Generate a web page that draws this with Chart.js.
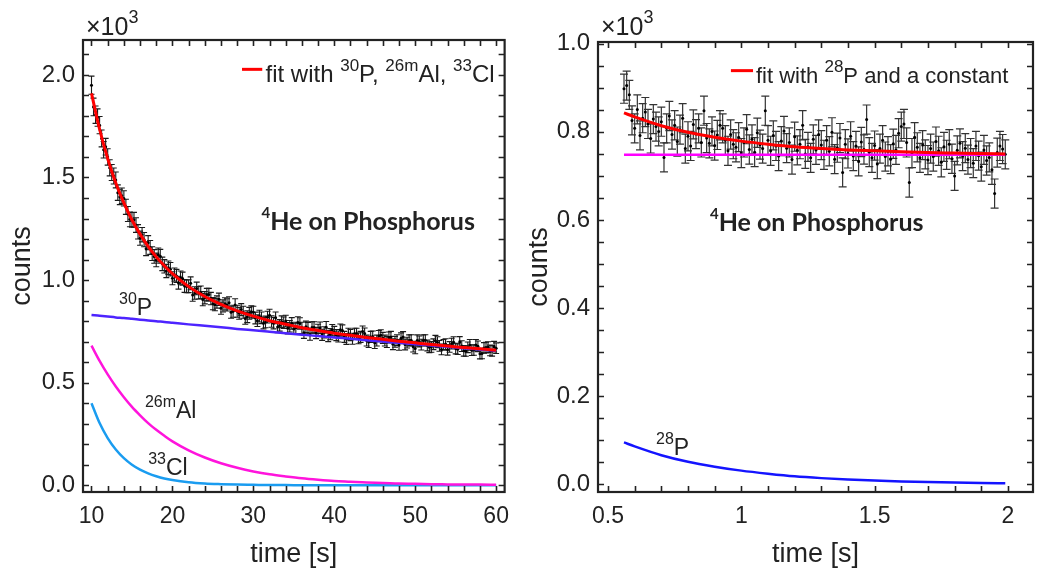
<!DOCTYPE html>
<html>
<head>
<meta charset="utf-8">
<script src="https://cdn.jsdelivr.net/npm/chart.js@4"></script>
<style>
  html, body { margin: 0; padding: 0; background: #fff; }
  #wrap { position: relative; width: 1037px; height: 571px; }
  .panel { position: absolute; top: 0; height: 571px; }
  #leftPanel { left: 0; width: 520px; }
  #rightPanel { left: 518px; width: 519px; }
</style>
</head>
<body>
<div id="wrap">
  <div class="panel" id="leftPanel"><canvas id="leftChart"></canvas></div>
  <div class="panel" id="rightPanel"><canvas id="rightChart"></canvas></div>
</div>
<script>
// ---- left panel: 10-60 s, counts in units of 10^3 ----
const leftT0 = 10, leftStep = 0.25;
const leftCounts = [
  1.950, 1.844, 1.806, 1.792, 1.755, 1.690, 1.635, 1.650, 1.600, 1.547,
  1.524, 1.507, 1.488, 1.426, 1.405, 1.411, 1.398, 1.357, 1.322, 1.296,
  1.293, 1.294, 1.268, 1.235, 1.204, 1.221, 1.197, 1.153, 1.182, 1.159,
  1.129, 1.115, 1.098, 1.123, 1.116, 1.079, 1.067, 1.044, 1.060, 1.053,
  1.009, 1.027, 1.020, 0.987, 1.012, 1.007, 0.971, 0.969, 0.970, 0.984,
  0.927, 0.937, 0.959, 0.938, 0.940, 0.905, 0.914, 0.929, 0.929, 0.910,
  0.885, 0.880, 0.893, 0.906, 0.863, 0.874, 0.884, 0.879, 0.889, 0.843,
  0.848, 0.879, 0.848, 0.838, 0.856, 0.843, 0.813, 0.821, 0.838, 0.845,
  0.843, 0.815, 0.802, 0.824, 0.816, 0.790, 0.796, 0.819, 0.829, 0.798,
  0.790, 0.816, 0.771, 0.779, 0.797, 0.792, 0.800, 0.765, 0.775, 0.789,
  0.762, 0.767, 0.793, 0.788, 0.767, 0.743, 0.772, 0.766, 0.734, 0.769,
  0.769, 0.742, 0.757, 0.768, 0.733, 0.745, 0.770, 0.727, 0.736, 0.756,
  0.747, 0.732, 0.725, 0.758, 0.754, 0.723, 0.713, 0.738, 0.732, 0.714,
  0.738, 0.738, 0.716, 0.723, 0.749, 0.739, 0.705, 0.698, 0.723, 0.725,
  0.693, 0.705, 0.727, 0.731, 0.718, 0.705, 0.698, 0.720, 0.723, 0.687,
  0.699, 0.707, 0.684, 0.716, 0.722, 0.686, 0.695, 0.706, 0.707, 0.675,
  0.667, 0.706, 0.701, 0.685, 0.706, 0.707, 0.681, 0.672, 0.674, 0.687,
  0.704, 0.697, 0.679, 0.662, 0.684, 0.688, 0.660, 0.674, 0.690, 0.697,
  0.666, 0.663, 0.698, 0.678, 0.655, 0.654, 0.672, 0.684, 0.658, 0.659,
  0.684, 0.677, 0.641, 0.642, 0.669, 0.671, 0.673, 0.657, 0.655, 0.675,
  0.668
];
const leftCurveTime = [10, 11, 12, 13, 14, 15, 16, 17, 18, 19, 20, 22, 24, 26, 28, 30,
  32, 34, 36, 38, 40, 42, 44, 46, 48, 50, 52, 54, 56, 58, 60];
const leftFit = [1.910, 1.735, 1.592, 1.473, 1.376, 1.293, 1.224, 1.164, 1.113, 1.070,
  1.031, 0.968, 0.920, 0.882, 0.850, 0.824, 0.802, 0.785, 0.768, 0.754, 0.741, 0.731,
  0.720, 0.711, 0.702, 0.694, 0.686, 0.679, 0.671, 0.665, 0.658];
const leftP30 = [0.830, 0.826, 0.822, 0.818, 0.815, 0.811, 0.807, 0.803, 0.799, 0.796,
  0.792, 0.784, 0.777, 0.770, 0.762, 0.755, 0.748, 0.741, 0.734, 0.727, 0.720, 0.714,
  0.707, 0.700, 0.694, 0.687, 0.681, 0.675, 0.668, 0.662, 0.656];
const leftAl26m = [0.680, 0.606, 0.540, 0.481, 0.429, 0.382, 0.341, 0.303, 0.270, 0.241,
  0.214, 0.170, 0.135, 0.107, 0.085, 0.067, 0.053, 0.043, 0.034, 0.027, 0.021, 0.017,
  0.013, 0.011, 0.008, 0.007, 0.005, 0.004, 0.003, 0.003, 0.002];
const leftCl33 = [0.400, 0.303, 0.230, 0.174, 0.132, 0.100, 0.076, 0.058, 0.044, 0.033,
  0.025, 0.014, 0.008, 0.005, 0.003, 0.002, 0.001, 0.001, 0.000, 0.000, 0.000, 0.000,
  0.000, 0.000, 0.000, 0.000, 0.000, 0.000, 0.000, 0.000, 0.000];
const leftXTicks = [10, 20, 30, 40, 50, 60];
const leftYTicks = [0, 0.5, 1, 1.5, 2];

// ---- right panel: 0.5-2 s ----
const rightT0 = 0.56, rightStep = 0.01;
const rightCounts = [
  0.898, 0.905, 0.884, 0.826, 0.808, 0.851, 0.792, 0.831, 0.845, 0.818,
  0.785, 0.829, 0.812, 0.801, 0.823, 0.742, 0.808, 0.836, 0.794, 0.815,
  0.778, 0.805, 0.831, 0.762, 0.790, 0.768, 0.817, 0.795, 0.808, 0.776,
  0.848, 0.786, 0.774, 0.801, 0.769, 0.793, 0.815, 0.808, 0.781, 0.757,
  0.794, 0.772, 0.765, 0.788, 0.752, 0.776, 0.806, 0.760, 0.783, 0.754,
  0.798, 0.771, 0.762, 0.848, 0.781, 0.757, 0.792, 0.768, 0.745, 0.779,
  0.802, 0.763, 0.776, 0.737, 0.789, 0.758, 0.772, 0.815, 0.750, 0.766,
  0.741, 0.783, 0.759, 0.794, 0.770, 0.748, 0.781, 0.756, 0.799, 0.738,
  0.764, 0.786, 0.708, 0.772, 0.751, 0.790, 0.745, 0.768, 0.733, 0.777,
  0.760, 0.828, 0.754, 0.741, 0.769, 0.727, 0.762, 0.781, 0.744, 0.756,
  0.738, 0.773, 0.759, 0.797, 0.812, 0.818, 0.776, 0.685, 0.752, 0.788,
  0.765, 0.741, 0.770, 0.749, 0.736, 0.762, 0.744, 0.778, 0.757, 0.731,
  0.766, 0.748, 0.772, 0.739, 0.700, 0.758, 0.774, 0.745, 0.763, 0.737,
  0.752, 0.729, 0.768, 0.746, 0.721, 0.759, 0.735, 0.742, 0.714, 0.660,
  0.753, 0.768, 0.761, 0.749
];
const rightErr = 0.033;
const rightCurveTime = [0.56, 0.6, 0.7, 0.8, 0.9, 1.0, 1.1, 1.2, 1.3, 1.4, 1.5, 1.6, 1.7, 1.8, 1.9, 1.99];
const rightFit = [0.843, 0.834, 0.814, 0.799, 0.788, 0.779, 0.772, 0.766, 0.762, 0.759,
  0.757, 0.755, 0.753, 0.752, 0.751, 0.750];
const rightP28 = [0.095, 0.086, 0.066, 0.051, 0.040, 0.031, 0.024, 0.018, 0.014, 0.011,
  0.0085, 0.0066, 0.0051, 0.0039, 0.0030, 0.0024];
const rightConstTime = [0.56, 1.99];
const rightConst = [0.748, 0.748];
const rightXTicks = [0.5, 1, 1.5, 2];
const rightYTicks = [0, 0.2, 0.4, 0.6, 0.8, 1];

const ink = '#222222';
const sans = '"Liberation Sans", Arial, sans-serif';
const boldFace = 'Lato, "Open Sans", sans-serif';

const xy = (xs, ys) => xs.map((x, i) => ({ x: x, y: ys[i] }));
// Poisson error of a bin, counts given in units of 10^3
const poisson = v => Math.sqrt(v * 1000) / 1000;

// draws "normal" and "^superscript" pieces one after another
function drawRich(ctx, x, y, parts, size, supSize, font) {
  let cx = x;
  parts.forEach(p => {
    const sup = p.startsWith('^');
    const txt = sup ? p.slice(1) : p;
    ctx.font = font.replace('SIZE', (sup ? supSize : size) + 'px');
    ctx.fillText(txt, cx, sup ? y - size * 0.47 : y);
    cx += ctx.measureText(txt).width;
  });
}

const framePlugin = {
  id: 'frame',
  beforeDatasetsDraw(chart, args, o) {
    const { ctx, scales: { x, y } } = chart;
    const eb = o.errorBars;
    ctx.save();
    ctx.strokeStyle = eb.color;
    ctx.lineWidth = eb.width;
    eb.xs.forEach((t, i) => {
      const px = x.getPixelForValue(t);
      const top = y.getPixelForValue(eb.ys[i] + eb.errs[i]);
      const bot = y.getPixelForValue(eb.ys[i] - eb.errs[i]);
      ctx.beginPath();
      ctx.moveTo(px, top); ctx.lineTo(px, bot);
      ctx.moveTo(px - eb.cap, top); ctx.lineTo(px + eb.cap, top);
      ctx.moveTo(px - eb.cap, bot); ctx.lineTo(px + eb.cap, bot);
      ctx.stroke();
    });
    ctx.restore();
  },
  afterDraw(chart, args, o) {
    const { ctx, chartArea: a, scales: { x, y } } = chart;
    ctx.save();
    // inward ticks on all four sides
    ctx.strokeStyle = ink;
    ctx.lineWidth = 1.6;
    const tl = 6;
    ctx.beginPath();
    for (let v = o.xMinor[0]; v <= o.xMinor[1] + 1e-9; v += o.xMinor[2]) {
      const px = Math.round(x.getPixelForValue(v)) + 0.5;
      ctx.moveTo(px, a.bottom); ctx.lineTo(px, a.bottom - tl);
      ctx.moveTo(px, a.top); ctx.lineTo(px, a.top + tl);
    }
    for (let v = o.yMinor[0]; v <= o.yMinor[1] + 1e-9; v += o.yMinor[2]) {
      const py = Math.round(y.getPixelForValue(v)) + 0.5;
      ctx.moveTo(a.left, py); ctx.lineTo(a.left + tl, py);
      ctx.moveTo(a.right, py); ctx.lineTo(a.right - tl, py);
    }
    ctx.stroke();
    ctx.lineWidth = 2.2;
    ctx.strokeRect(a.left, a.top, a.right - a.left, a.bottom - a.top);

    ctx.fillStyle = ink;
    ctx.textBaseline = 'alphabetic';
    ctx.textAlign = 'left';
    // exponent above the y axis
    drawRich(ctx, a.left + 3, 35, ['\u00d710', '^3'], 25, 18, 'SIZE ' + sans);

    // legend entry
    const lg = o.legend;
    ctx.strokeStyle = '#ff0000';
    ctx.lineWidth = 3;
    ctx.beginPath();
    ctx.moveTo(x.getPixelForValue(lg.x1), y.getPixelForValue(lg.y));
    ctx.lineTo(x.getPixelForValue(lg.x2), y.getPixelForValue(lg.y));
    ctx.stroke();
    ctx.fillStyle = ink;
    drawRich(ctx, x.getPixelForValue(lg.tx), y.getPixelForValue(lg.ty), lg.parts, lg.size, 17, 'SIZE ' + sans);

    // curve labels and the reaction label
    o.labels.forEach(l => {
      ctx.fillStyle = ink;
      const font = l.bold ? 'bold SIZE ' + boldFace : 'SIZE ' + sans;
      drawRich(ctx, x.getPixelForValue(l.x), y.getPixelForValue(l.y), l.parts, l.size, l.sup, font);
    });
    ctx.restore();
  }
};

function makeScales(c) {
  return {
    x: {
      type: 'linear', min: c.xMin, max: c.xMax,
      afterBuildTicks: s => { s.ticks = c.xTicks.map(v => ({ value: v })); },
      afterFit: s => { s.height = 79; },
      grid: { display: false, drawTicks: false },
      border: { display: false },
      ticks: { color: ink, font: { family: sans, size: 23 }, padding: 11, maxRotation: 0, autoSkip: false,
        callback: v => String(v) },
      title: { display: true, text: 'time [s]', color: ink, font: { family: sans, size: 27 }, padding: { top: 0, bottom: 0 } }
    },
    y: {
      type: 'linear', min: c.yMin, max: c.yMax,
      afterBuildTicks: s => { s.ticks = c.yTicks.map(v => ({ value: v })); },
      afterFit: s => { s.width = c.yWidth; },
      grid: { display: false, drawTicks: false },
      border: { display: false },
      ticks: { color: ink, font: { family: sans, size: 24 }, padding: 8, autoSkip: false,
        callback: v => v.toFixed(1) },
      title: { display: true, text: 'counts', color: ink, font: { family: sans, size: 27 }, padding: { top: c.yTitlePad, bottom: 0 } }
    }
  };
}

function line(data, color, width, order) {
  return { type: 'line', data: data, borderColor: color, borderWidth: width, pointRadius: 0,
    cubicInterpolationMode: 'monotone', fill: false, order: order };
}

function points(data, order) {
  return { type: 'scatter', data: data, backgroundColor: '#000', borderColor: '#000',
    pointRadius: 1.5, pointBorderWidth: 0, order: order };
}

const common = {
  responsive: true,
  maintainAspectRatio: false,
  animation: false,
  events: [],
  plugins: { legend: { display: false }, tooltip: { enabled: false } }
};

// left chart
const leftTimes = leftCounts.map((_, i) => leftT0 + i * leftStep);
new Chart(document.getElementById('leftChart'), {
  type: 'scatter',
  data: {
    datasets: [
      line(xy(leftCurveTime, leftFit), '#ff0000', 3, 0),
      line(xy(leftCurveTime, leftP30), '#4d24ff', 2.5, 1),
      line(xy(leftCurveTime, leftAl26m), '#ff14dc', 2.5, 2),
      line(xy(leftCurveTime, leftCl33), '#1a9cf0', 2.5, 3),
      points(xy(leftTimes, leftCounts), 4)
    ]
  },
  options: Object.assign({}, common, {
    layout: { padding: { left: 0, top: 40, right: 3, bottom: 0 } },
    scales: makeScales({ xMin: 8.95, xMax: 61.05, yMin: -0.033, yMax: 2.17, xTicks: leftXTicks, yTicks: leftYTicks,
      yWidth: 83, yTitlePad: 6 }),
    plugins: Object.assign({}, common.plugins, {
      frame: {
        xMinor: [10, 60, 2], yMinor: [0, 2.1, 0.1],
        errorBars: { xs: leftTimes, ys: leftCounts, errs: leftCounts.map(poisson), cap: 3, width: 1.1, color: '#1a1a1a' },
        legend: { x1: 28.6, x2: 31.1, y: 2.027, tx: 31.5, ty: 1.966, size: 24,
          parts: ['fit with ', '^30', 'P, ', '^26m', 'Al, ', '^33', 'Cl'] },
        labels: [
          { parts: ['^4', 'He on Phosphorus'], x: 31.0, y: 1.244, size: 25, sup: 15, bold: true },
          { parts: ['^30', 'P'], x: 13.4, y: 0.83, size: 23, sup: 16 },
          { parts: ['^26m', 'Al'], x: 16.6, y: 0.327, size: 23, sup: 16 },
          { parts: ['^33', 'Cl'], x: 17.0, y: 0.049, size: 23, sup: 16 }
        ]
      }
    })
  }),
  plugins: [framePlugin]
});

// right chart
const rightTimes = rightCounts.map((_, i) => rightT0 + i * rightStep);
new Chart(document.getElementById('rightChart'), {
  type: 'scatter',
  data: {
    datasets: [
      line(xy(rightCurveTime, rightFit), '#ff0000', 3, 0),
      line(xy(rightConstTime, rightConst), '#ff00ff', 2.5, 1),
      line(xy(rightCurveTime, rightP28), '#1414ff', 2.5, 2),
      points(xy(rightTimes, rightCounts), 3)
    ]
  },
  options: Object.assign({}, common, {
    layout: { padding: { left: 0, top: 42, right: 4, bottom: 0 } },
    scales: makeScales({ xMin: 0.4625, xMax: 2.094, yMin: -0.0175, yMax: 1.004, xTicks: rightXTicks, yTicks: rightYTicks,
      yWidth: 80, yTitlePad: 5 }),
    plugins: Object.assign({}, common.plugins, {
      frame: {
        xMinor: [0.5, 2.0, 0.1], yMinor: [0, 1.0, 0.05],
        errorBars: { xs: rightTimes, ys: rightCounts, errs: rightCounts.map(() => rightErr), cap: 4, width: 1.2, color: '#333333' },
        legend: { x1: 0.961, x2: 1.044, y: 0.939, tx: 1.055, ty: 0.912, size: 22,
          parts: ['fit with ', '^28', 'P and a constant'] },
        labels: [
          { parts: ['^4', 'He on Phosphorus'], x: 0.8825, y: 0.576, size: 25, sup: 15, bold: true },
          { parts: ['^28', 'P'], x: 0.68, y: 0.066, size: 23, sup: 16 }
        ]
      }
    })
  }),
  plugins: [framePlugin]
});
</script>
</body>
</html>
